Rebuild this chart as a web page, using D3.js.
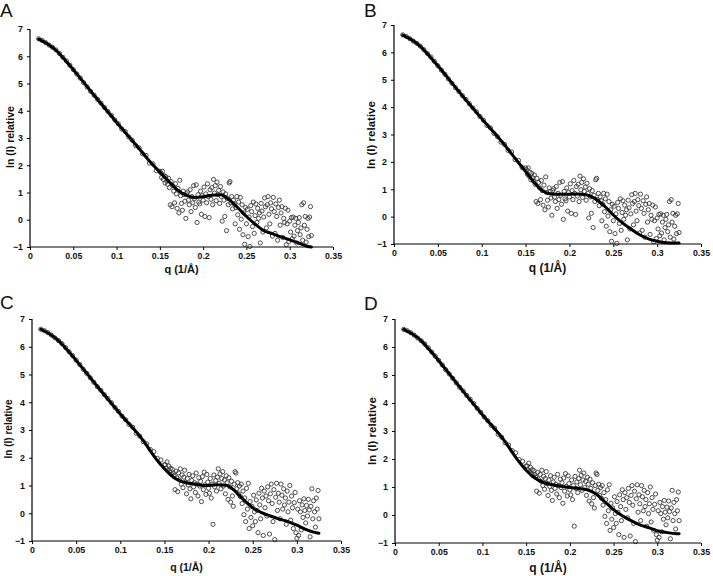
<!DOCTYPE html>
<html><head><meta charset="utf-8">
<script src="https://cdn.jsdelivr.net/npm/d3@7"></script>
<style>body{margin:0;background:#fff}svg{display:block}</style>
</head><body>
<svg id="chart" width="713" height="576"></svg>
<script>
// ---------- DATA ----------
const panelLetters = ["A", "B", "C", "D"];
const xTicks = [0, 0.05, 0.1, 0.15, 0.2, 0.25, 0.3, 0.35];
const xTickLabels = ["0", "0.05", "0.1", "0.15", "0.2", "0.25", "0.3", "0.35"];
const yTicks = [-1, 0, 1, 2, 3, 4, 5, 6, 7];
const xTitle = "q (1/Å)";
const yTitle = "ln (I) relative";

// measured q values (1/Å)
const qObs = [
 0.010,0.014,0.018,0.022,0.026,0.030,0.034,0.038,0.042,0.046,
 0.050,0.054,0.058,0.062,0.066,0.070,0.074,0.078,0.082,0.086,
 0.090,0.094,0.098,0.102,0.106,0.110,0.114,0.118,0.122,0.126,
 0.130,0.134,0.138,0.142,0.146,0.150,
 0.151,0.152,0.153,0.154,0.155,0.156,0.157,0.158,0.159,0.160,
 0.161,0.162,0.163,0.164,0.165,0.166,0.167,0.168,0.169,0.170,
 0.171,0.172,0.173,0.174,0.175,0.176,0.177,0.178,0.179,0.180,
 0.181,0.182,0.183,0.184,0.185,0.186,0.187,0.188,0.189,0.190,
 0.191,0.192,0.193,0.194,0.195,0.196,0.197,0.198,0.199,0.200,
 0.201,0.202,0.203,0.204,0.205,0.206,0.207,0.208,0.209,0.210,
 0.211,0.212,0.213,0.214,0.215,0.216,0.217,0.218,0.219,0.220,
 0.221,0.222,0.223,0.224,0.225,0.226,0.227,0.228,0.229,0.230,
 0.231,0.232,0.233,0.234,0.235,0.236,0.237,0.238,0.239,0.240,
 0.241,0.242,0.243,0.244,0.245,0.246,0.247,0.248,0.249,0.250,
 0.251,0.252,0.253,0.254,0.255,0.256,0.257,0.258,0.259,0.260,
 0.261,0.262,0.263,0.264,0.265,0.266,0.267,0.268,0.269,0.270,
 0.271,0.272,0.273,0.274,0.275,0.276,0.277,0.278,0.279,0.280,
 0.281,0.282,0.283,0.284,0.285,0.286,0.287,0.288,0.289,0.290,
 0.291,0.292,0.293,0.294,0.295,0.296,0.297,0.298,0.299,0.300,
 0.301,0.302,0.303,0.304,0.305,0.306,0.307,0.308,0.309,0.310,
 0.311,0.312,0.313,0.314,0.315,0.316,0.317,0.318,0.319,0.320,
 0.321,0.322,0.323,0.324,0.325
];

// observed ln(I), dataset shown in panels A and B
const lnI_AB = [
 6.64,6.58,6.50,6.41,6.33,6.23,6.10,5.96,5.83,5.67,
 5.51,5.35,5.20,5.03,4.87,4.71,4.57,4.42,4.28,4.12,
 3.97,3.83,3.66,3.52,3.33,3.24,3.04,2.92,2.72,2.64,
 2.42,2.36,2.08,2.05,1.80,1.78,
 1.72,1.55,1.78,1.48,1.62,1.35,1.58,1.42,1.30,1.52,
 1.18,0.55,1.40,0.48,1.25,1.05,0.62,1.32,0.95,0.42,
 1.15,0.25,1.45,0.88,0.60,0.35,1.05,0.92,0.68,0.05,
 0.95,1.02,0.72,0.55,1.10,0.30,0.85,0.62,1.25,0.78,
 0.45,1.28,-0.10,0.92,0.65,0.58,1.05,0.20,0.88,0.72,
 1.20,0.12,0.95,0.62,1.32,0.85,0.08,1.10,0.75,1.18,
 0.55,1.48,0.98,1.25,0.70,1.38,0.92,1.08,0.60,1.22,
 0.85,-0.05,1.02,0.72,0.12,0.95,-0.40,0.78,0.55,1.35,
 1.40,0.62,0.85,0.40,0.72,0.58,-0.15,0.45,0.85,0.18,
 0.65,-0.35,0.82,0.02,0.55,-0.55,0.25,-0.90,0.45,-0.15,
 0.38,-0.62,0.10,-0.98,0.52,0.30,-0.25,0.65,-0.50,0.15,
 0.58,-0.10,0.42,0.05,0.25,-0.85,0.60,0.32,-0.45,0.10,
 0.80,0.48,-0.30,0.55,0.85,0.20,-0.15,0.62,0.40,-0.60,
 0.82,0.30,-0.50,0.58,0.12,-0.75,0.45,0.72,-0.20,0.25,
 0.48,-0.65,0.05,-0.10,0.42,-0.92,-0.15,0.35,-0.80,-0.05,
 -0.45,0.08,-0.70,0.10,-0.60,-0.20,0.05,-0.85,-0.40,-0.10,
 0.08,-0.55,-0.30,0.55,-0.75,0.62,-0.20,0.12,-0.82,-0.35,
 0.05,-0.62,0.10,0.48,-0.58
];

// observed ln(I), dataset shown in panels C and D
const lnI_CD = [
 6.63,6.58,6.51,6.42,6.32,6.22,6.11,5.97,5.82,5.68,
 5.52,5.36,5.19,5.04,4.88,4.72,4.56,4.43,4.27,4.13,
 3.98,3.81,3.67,3.50,3.37,3.20,3.10,2.88,2.78,2.58,
 2.50,2.30,2.22,1.98,1.92,1.75,
 1.75,1.62,1.85,1.55,1.70,1.48,1.62,1.40,1.58,1.45,
 1.35,0.85,1.52,1.28,0.78,1.45,1.20,1.60,1.05,1.38,
 0.92,1.30,1.55,1.12,0.70,1.25,1.02,1.40,0.88,0.52,
 1.18,1.35,0.95,1.10,0.75,1.45,1.05,0.62,1.28,0.98,
 1.15,0.42,1.32,0.85,1.48,1.02,0.68,1.40,1.12,0.90,
 0.72,1.25,0.55,1.05,-0.40,1.38,0.95,1.18,0.80,1.30,
 1.60,1.08,1.42,0.88,1.25,1.50,0.98,1.20,0.70,1.35,
 1.10,0.50,1.28,0.95,0.40,1.15,0.62,0.25,1.05,1.50,
 1.45,0.88,1.10,0.70,0.98,0.60,1.05,0.35,0.80,-0.05,
 0.55,-0.30,0.90,0.15,1.08,-0.55,0.42,-0.15,0.25,-0.45,
 0.65,0.05,-0.30,0.48,0.10,-0.70,0.72,0.30,-0.20,0.90,
 0.55,-0.80,0.80,0.20,0.62,-0.10,0.95,0.45,-0.75,0.70,
 1.05,0.35,-0.30,0.85,-0.95,0.58,1.08,0.10,0.72,0.40,
 -0.20,1.05,0.65,0.15,0.88,0.30,0.55,-0.40,0.80,0.05,
 0.40,1.00,-0.25,0.62,0.20,-0.55,0.38,0.75,-0.70,-0.90,
 0.15,-0.80,0.45,0.05,-0.60,0.30,-0.15,0.52,0.10,-0.35,
 0.28,-0.10,0.50,0.12,-0.85,0.25,0.88,-0.20,0.45,0.05,
 -0.50,0.55,0.15,0.82,-0.20
];

// model fit curves
const qFit = [0.010,0.020,0.030,0.040,0.050,0.075,0.100,0.125,0.140,0.150,0.160,0.170,0.180,0.190,0.200,0.210,0.220,0.230,0.240,0.250,0.260,0.270,0.280,0.290,0.300,0.310,0.320,0.325];
const fitA = [6.63,6.46,6.22,5.88,5.51,4.53,3.58,2.65,2.08,1.75,1.42,1.10,0.90,0.82,0.84,0.90,0.92,0.74,0.44,0.12,-0.16,-0.40,-0.51,-0.63,-0.74,-0.85,-0.97,-1.00];
const fitB = [6.63,6.46,6.22,5.88,5.51,4.53,3.58,2.66,2.05,1.65,1.24,0.93,0.83,0.82,0.82,0.83,0.79,0.64,0.38,0.06,-0.22,-0.45,-0.66,-0.81,-0.90,-0.95,-0.96,-0.96];
const fitC = [6.63,6.46,6.22,5.88,5.51,4.53,3.58,2.66,1.98,1.60,1.30,1.14,1.07,1.02,1.00,1.03,1.01,0.80,0.47,0.20,0.02,-0.10,-0.21,-0.30,-0.43,-0.58,-0.69,-0.72];
const fitD = [6.63,6.46,6.22,5.88,5.51,4.53,3.58,2.66,1.98,1.60,1.32,1.16,1.08,1.03,0.98,0.95,0.90,0.75,0.47,0.19,-0.03,-0.20,-0.35,-0.45,-0.56,-0.62,-0.66,-0.67];

// ---------- LAYOUT ----------
const panels = [
  {letter: panelLetters[0], obs: lnI_AB, fit: fitA, l: 30,  r: 333, t: 29,  b: 247, lx: 0,   ly: 17,  yx: 10,  yy: 137, xb: 273, fs: 11},
  {letter: panelLetters[1], obs: lnI_AB, fit: fitB, l: 394, r: 701, t: 25,  b: 244, lx: 364, ly: 17,  yx: 371, yy: 135, xb: 272, fs: 12},
  {letter: panelLetters[2], obs: lnI_CD, fit: fitC, l: 32,  r: 341, t: 319, b: 541, lx: 0,   ly: 309, yx: 8,   yy: 429, xb: 571, fs: 10.5},
  {letter: panelLetters[3], obs: lnI_CD, fit: fitD, l: 395, r: 701, t: 319, b: 543, lx: 364, ly: 310, yx: 372, yy: 431, xb: 572, fs: 12}
];

const svg = d3.select("#chart");
const FONT = "'Liberation Sans', Arial, sans-serif";

panels.forEach(p => {
  const x = d3.scaleLinear().domain([0, 0.35]).range([p.l, p.r]);
  const y = d3.scaleLinear().domain([-1, 7]).range([p.b, p.t]);
  const g = svg.append("g");

  // panel letter
  g.append("text").attr("x", p.lx).attr("y", p.ly)
    .attr("font-family", FONT).attr("font-size", 19).attr("fill", "#111")
    .text(p.letter);

  // observed points
  const n = Math.min(qObs.length, p.obs.length);
  const pts = d3.range(n).map(i => [qObs[i], p.obs[i]]);
  g.append("g").selectAll("circle").data(pts).join("circle")
    .attr("cx", d => x(d[0])).attr("cy", d => y(d[1])).attr("r", 2.1)
    .attr("fill", "none").attr("stroke", "#3a3a3a").attr("stroke-width", 0.9);

  // fit line
  const line = d3.line().x((d, i) => x(qFit[i])).y(d => y(d)).curve(d3.curveMonotoneX);
  g.append("path").datum(p.fit).attr("d", line)
    .attr("fill", "none").attr("stroke", "#000").attr("stroke-width", 3)
    .attr("stroke-linejoin", "round").attr("stroke-linecap", "round");

  // axes
  const xAxis = d3.axisBottom(x).tickValues(xTicks)
    .tickFormat((d, i) => xTickLabels[i]).tickSize(3).tickPadding(3);
  const gx = g.append("g").attr("transform", `translate(0,${p.b})`).call(xAxis);
  const yAxis = d3.axisLeft(y).tickValues(yTicks).tickFormat(d3.format("d")).tickSize(3).tickPadding(4);
  const gy = g.append("g").attr("transform", `translate(${p.l},0)`).call(yAxis);
  [gx, gy].forEach(a => {
    a.select(".domain").attr("stroke", "#000").attr("stroke-width", 1.2);
    a.selectAll(".tick line").attr("stroke", "#000").attr("stroke-width", 1);
    a.selectAll(".tick text").attr("font-family", FONT).attr("font-weight", "bold")
      .attr("font-size", 8.8).attr("fill", "#111");
  });
  gx.select(".domain").attr("d", `M${p.l},0H${p.r}`);
  gy.select(".domain").attr("d", `M0,${p.b}V${p.t}`);

  // axis titles
  g.append("text").attr("x", (p.l + p.r) / 2).attr("y", p.xb)
    .attr("text-anchor", "middle").attr("font-family", FONT).attr("font-weight", "bold")
    .attr("font-size", p.fs).attr("fill", "#111").text(xTitle);
  g.append("text").attr("transform", `translate(${p.yx},${p.yy}) rotate(-90)`)
    .attr("text-anchor", "middle").attr("dominant-baseline", "central")
    .attr("font-family", FONT).attr("font-weight", "bold")
    .attr("font-size", p.fs - 0.5).attr("fill", "#111").text(yTitle);
});
</script>
</body></html>
